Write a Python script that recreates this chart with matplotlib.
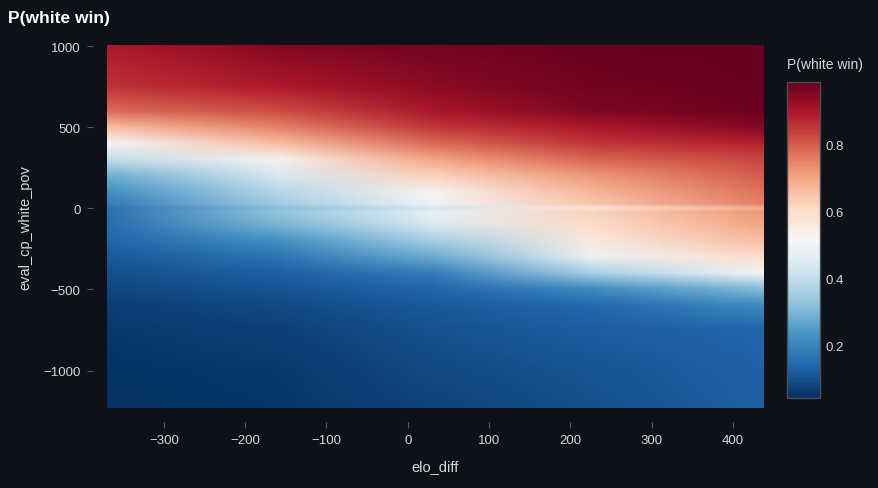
import numpy as np
import matplotlib
matplotlib.use("Agg")
import matplotlib.pyplot as plt
from matplotlib.image import NonUniformImage

plt.rcParams['font.family'] = ['Liberation Sans', 'DejaVu Sans']

# grid nodes of the win-probability surface
elo_diff = [-370, -160, 30, 225, 437]
eval_cp = [1000, 750, 600, 500, 400, 300, 200, 100, 25, 0, -25, -100,
           -200, -300, -400, -500, -600, -750, -1000, -1230]

# P(white win), one list per elo_diff column, top to bottom in eval_cp order
p_m370 = [0.89, 0.855, 0.78, 0.66, 0.51, 0.40, 0.29, 0.225, 0.19, 0.165, 0.165,
          0.155, 0.14, 0.12, 0.10, 0.085, 0.072, 0.062, 0.055, 0.05]
p_m160 = [0.95, 0.89, 0.82, 0.75, 0.66, 0.53, 0.44, 0.38, 0.35, 0.315, 0.33,
          0.30, 0.23, 0.17, 0.13, 0.11, 0.09, 0.075, 0.062, 0.057]
p_30 = [0.965, 0.94, 0.90, 0.85, 0.78, 0.70, 0.62, 0.53, 0.50, 0.43, 0.48,
        0.45, 0.36, 0.28, 0.19, 0.14, 0.12, 0.105, 0.09, 0.08]
p_225 = [0.98, 0.97, 0.955, 0.895, 0.85, 0.79, 0.72, 0.67, 0.64, 0.57, 0.62,
         0.60, 0.56, 0.49, 0.36, 0.22, 0.145, 0.125, 0.11, 0.10]
p_437 = [0.985, 0.98, 0.975, 0.95, 0.88, 0.83, 0.80, 0.77, 0.75, 0.68, 0.72,
         0.70, 0.66, 0.60, 0.51, 0.31, 0.22, 0.14, 0.135, 0.13]

x_ticks = [-300, -200, -100, 0, 100, 200, 300, 400]
y_ticks = [-1000, -500, 0, 500, 1000]
cbar_ticks = [0.2, 0.4, 0.6, 0.8]

bg = '#0e1117'
fg = '#d8d8d8'

# rows must run upwards for NonUniformImage
Z = np.array([p_m370, p_m160, p_30, p_225, p_437]).T[::-1]
ys = np.array(eval_cp, dtype=float)[::-1]
xs = np.array(elo_diff, dtype=float)

fig = plt.figure(figsize=(8.79, 4.89), dpi=100, facecolor=bg)
ax = fig.add_axes([107 / 879, 80 / 489, 656 / 879, 362 / 489])
ax.set_facecolor(bg)

im = NonUniformImage(ax, interpolation='bilinear', cmap='RdBu_r',
                     extent=(xs[0], xs[-1], ys[0], ys[-1]))
im.set_data(xs, ys, Z)
im.set_clim(0.044, 0.985)
ax.add_image(im)
ax.set_xlim(-370, 437)
ax.set_ylim(-1230, 1000)

for s in ax.spines.values():
    s.set_visible(False)
ax.spines['left'].set_position(('outward', 10))
ax.spines['bottom'].set_position(('outward', 10))
ax.set_xticks(x_ticks)
ax.set_yticks(y_ticks)
ax.set_xticklabels([str(v).replace('-', '\u2212') for v in x_ticks])
ax.set_yticklabels([str(v).replace('-', '\u2212') for v in y_ticks])
ax.tick_params(colors='#555a60', labelcolor=fg, labelsize=9.5, length=4,
               width=0.8, pad=5)
ax.set_xlabel('elo_diff', color=fg, fontsize=10.5, labelpad=9)
ax.set_ylabel('eval_cp_white_pov', color=fg, fontsize=10.5, labelpad=8)

# colour bar
cax = fig.add_axes([787 / 879, 90 / 489, 33 / 879, 316 / 489])
cb = fig.colorbar(im, cax=cax, ticks=cbar_ticks)
cb.outline.set_edgecolor('#4a4e55')
cb.outline.set_linewidth(1)
cax.tick_params(length=0, labelcolor=fg, labelsize=9.5, pad=4)
fig.text(787 / 879, 1 - 65 / 489, 'P(white win)', color=fg, fontsize=10,
         ha='left', va='center')

fig.text(8 / 879, 1 - 19 / 489, 'P(white win)', color='white', fontsize=12.5,
         fontweight='bold', ha='left', va='center')

fig.savefig('out.png', dpi=100, facecolor=bg)
